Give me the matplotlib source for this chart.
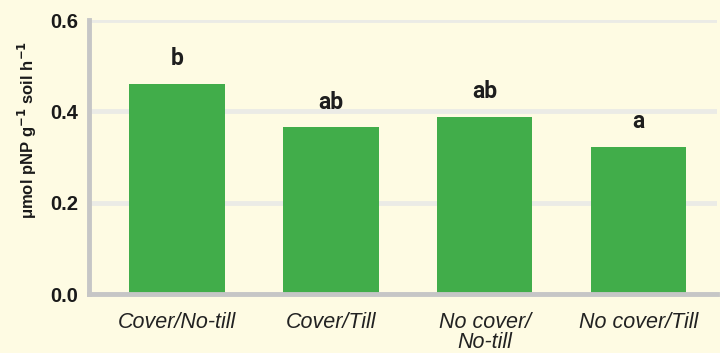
import numpy as np
import matplotlib.pyplot as plt

# data
treatments = ['Cover/No-till', 'Cover/Till', 'No cover/\nNo-till', 'No cover/Till']
activity = [0.461, 0.365, 0.387, 0.323]
letters = ['b', 'ab', 'ab', 'a']
yticks = [0.0, 0.2, 0.4, 0.6]

bg = '#FEFBE3'
fig = plt.figure(figsize=(7.2, 3.53), dpi=100, facecolor=bg)
ax = fig.add_axes([0.124, 0.167, 0.872, 0.776])
ax.set_facecolor(bg)

x = np.arange(len(treatments))
bars = ax.bar(x, activity, width=0.62, color='#41AD4A', zorder=3)

for xi, v, lab in zip(x, activity, letters):
    ax.annotate(lab, (xi, v), xytext=(0, 10), textcoords='offset points',
                ha='center', va='bottom', fontsize=16.5, fontweight='bold',
                family='Roboto', color='#1e1e1e')

ax.set_xlim(-0.57, 3.51)
ax.set_ylim(0, 0.6)
ax.set_yticks(yticks)
ax.set_yticklabels([f'{t:.1f}' for t in yticks], fontsize=14.5,
                   fontweight='bold', family='Liberation Sans', color='#1a1a1a')
ax.set_xticks(x)
ax.set_xticklabels(treatments, fontsize=15.5, style='italic',
                   family='Liberation Sans', color='#222222', linespacing=0.95)
ax.tick_params(axis='both', length=0)
ax.tick_params(axis='x', pad=13)
ax.tick_params(axis='y', pad=8)

ax.yaxis.grid(True, color='#EBEBE6', linewidth=3.5, zorder=0)
ax.set_axisbelow(True)
for s in ['top', 'right']:
    ax.spines[s].set_visible(False)
for s in ['left', 'bottom']:
    ax.spines[s].set_color('#C6C6C6')
    ax.spines[s].set_linewidth(3.5)
    ax.spines[s].set_zorder(4)

ax.set_ylabel(r'μmol pNP g$^{\mathbf{-1}}$ soil h$^{\mathbf{-1}}$', fontsize=12,
              fontweight='bold', family='Liberation Sans', color='#1a1a1a')
ax.yaxis.set_label_coords(-0.08, 0.6)

fig.savefig('out.png', dpi=100, facecolor=bg)
